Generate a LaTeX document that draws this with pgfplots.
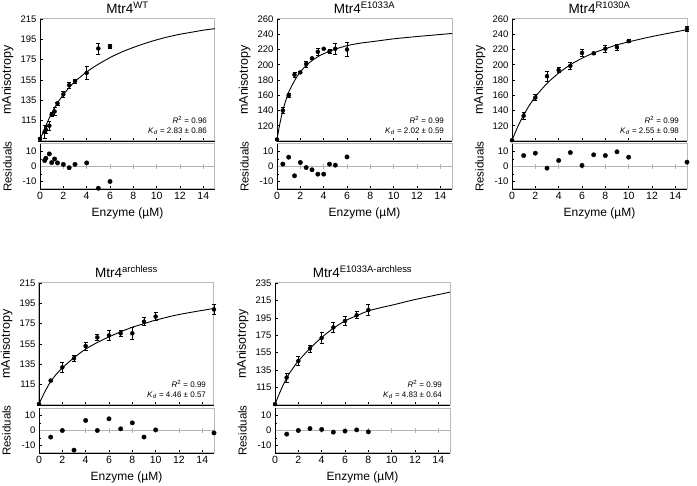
\documentclass[border=0pt]{standalone}
\usepackage{fontspec}
\setmainfont{Liberation Sans}
\usepackage{pgfplots}
\pgfplotsset{compat=1.18}

\pgfplotsset{
  every axis/.append style={
    scale only axis, width=175pt, xmin=0, xmax=15,
    xtick={0,2,...,14},
    axis line style={gray!55, line width=1pt},
    tick style={black, line width=0.5pt},
    major tick length=3pt, minor tick length=2pt,
    tick align=inside, xtick pos=bottom, ytick pos=left,
    /pgf/number format/assume math mode=true,
    yticklabel style={font=\fontsize{9.5}{9.5}\selectfont},
    xticklabel style={font=\fontsize{10.5}{10.5}\selectfont},
    ylabel style={at={(axis description cs:-0.185,0.5)}, anchor=center},
    extra description/.code={
      \draw[black, line width=0.8pt] (0,1)--(0,0)--(1,0);
    },
  },
  mainax/.style={
    height=122pt, xticklabels={}, clip=false,
    ylabel={mAnisotropy},
    ylabel style={font=\fontsize{12.5}{14}\selectfont},
  },
  resax/.style={
    height=45pt, ymin=-15, ymax=15, ytick={-10,0,10}, minor ytick={-5,5},
    ylabel={Residuals},
    ylabel style={font=\fontsize{11.5}{13}\selectfont},
    xlabel={Enzyme (µM)},
    xlabel style={at={(axis description cs:0.5,0)}, anchor=center, yshift=-24pt,
      font=\fontsize{12}{14}\selectfont},
  },
  datap/.style={only marks, mark=*, mark size=2pt, black,
    error bars/.cd, y dir=both, y explicit,
    error bar style={line width=0.6pt, black},
    error mark options={rotate=90, mark size=2pt, line width=0.6pt, black}},
  fitp/.style={black, line width=0.9pt, smooth, no marks},
  resp/.style={only marks, mark=*, mark size=2.2pt, black},
  zerop/.style={gray!60, line width=0.8pt, no marks},
}
\newcommand{\ttl}[1]{\node[font=\fontsize{13.5}{15}\selectfont] at (rel axis cs:0.5,1) [yshift=11pt] {Mtr4\textsuperscript{#1}};}
\newcommand{\fitbox}[2]{\node[anchor=south east, inner sep=0pt, align=right,
  font=\fontsize{8}{10}\selectfont] at (rel axis cs:0.955,0.05)
  {\textit{R}\textsuperscript{2} = #1\\\textit{K}\textsubscript{\textit{d}} = #2};}
\newcommand{\zeroticks}{\pgfplotsinvokeforeach{2,4,6,8,10,12,14}{\draw[gray!60, line width=0.6pt] (axis cs:##1,-1.5)--(axis cs:##1,1.5);}}

\begin{document}
\begin{tikzpicture}
\useasboundingbox (0,0) rectangle (697pt,-486pt);

% ---- Mtr4 WT
\begin{axis}[mainax, at={(40pt,-141pt)}, anchor=south west,
  ymin=95, ymax=215, ytick={115,135,...,215}]
  \addplot[fitp] coordinates {(0,97)(0.25,103)(0.5,110)(0.75,116.5)(1,122.5)(1.5,132.5)(2,140.5)(2.5,147.5)(3,153.5)(4,163)(5,170.5)(6,177)(7,182.5)(8,187)(9,191)(10,194.5)(11,197.5)(12,200)(13,202)(14,204)(15,205.5)};
  \addplot[datap] coordinates {(0,97)+-(0,2) (0.4,104)+-(0,6) (0.5,106)+-(0,3) (0.8,110)+-(0,4) (1.0,121)+-(0,2) (1.25,124)+-(0,4) (1.5,132)+-(0,1.5) (2,141)+-(0,3) (2.5,150)+-(0,3) (3,154)+-(0,2) (4,162)+-(0,6) (5,186)+-(0,5.5) (6,188)+-(0,2)};
  \ttl{WT}
  \fitbox{0.96}{2.83 ± 0.86}
\end{axis}
\begin{axis}[resax, at={(40pt,-189pt)}, anchor=south west]
  \addplot[zerop] coordinates {(0,0)(15,0)};
  \zeroticks
  \addplot[resp] coordinates {(0.4,4)(0.5,5.5)(0.8,8.4)(1.0,2.6)(1.25,5)(1.5,2.4)(2,1.4)(2.5,-0.8)(3,1.4)(4,2.4)(5,-14.5)(6,-10)};
\end{axis}

% ---- Mtr4 E1033A
\begin{axis}[mainax, at={(277pt,-141pt)}, anchor=south west,
  ymin=100, ymax=260, ytick={120,140,...,260}]
  \addplot[fitp] coordinates {(0,102)(0.25,123)(0.5,140)(0.75,153)(1,164)(1.5,179)(2,190.5)(2.5,199)(3,205.5)(3.5,210.5)(4,214.5)(5,220.5)(6,225)(7,228)(8,230)(9,232)(10,234)(12,237)(15,241)};
  \addplot[datap] coordinates {(0,102)+-(0,1) (0.5,140)+-(0,4) (1,160)+-(0,3) (1.5,187)+-(0,3) (2,190)+-(0,1.5) (2.5,201)+-(0,4) (3,208.5)+-(0,1.5) (3.5,217)+-(0,5) (4,221)+-(0,1) (4.5,217.5)+-(0,3) (5,221)+-(0,7) (6,220)+-(0,9)};
  \ttl{E1033A}
  \fitbox{0.99}{2.02 ± 0.59}
\end{axis}
\begin{axis}[resax, at={(277pt,-189pt)}, anchor=south west]
  \addplot[zerop] coordinates {(0,0)(15,0)};
  \zeroticks
  \addplot[resp] coordinates {(0.5,1.6)(1,6.2)(1.5,-6.2)(2,2.7)(2.5,-0.7)(3,-2.2)(3.5,-5.1)(4,-5.1)(4.5,1.6)(5,0.9)(6,6.4)};
\end{axis}

% ---- Mtr4 R1030A
\begin{axis}[mainax, at={(512pt,-141pt)}, anchor=south west,
  ymin=100, ymax=260, ytick={120,140,...,260}]
  \addplot[fitp] coordinates {(0,101)(0.5,119)(1,134)(1.5,147)(2,158)(3,175.5)(4,189)(5,200)(6,208.5)(7,215.5)(8,221)(9,226)(10,230)(12,237)(15,246)};
  \addplot[datap] coordinates {(0,101)+-(0,1) (1,133)+-(0,4) (2,157)+-(0,4) (3,185)+-(0,7) (4,193)+-(0,3) (5,198.5)+-(0,5) (6,215.5)+-(0,5) (7,215)+-(0,1) (8,221)+-(0,5) (9,223)+-(0,4) (10,231)+-(0,2) (15,247)+-(0,3)};
  \ttl{R1030A}
  \fitbox{0.99}{2.55 ± 0.98}
\end{axis}
\begin{axis}[resax, at={(512pt,-189pt)}, anchor=south west]
  \addplot[zerop] coordinates {(0,0)(15,0)};
  \zeroticks
  \addplot[resp] coordinates {(1,7.3)(2,8.9)(3,-1.1)(4,4)(5,9.3)(6,0.7)(7,7.8)(8,7.3)(9,9.8)(10,6.2)(15,2.9)};
\end{axis}

% ---- Mtr4 archless
\begin{axis}[mainax, at={(39pt,-405pt)}, anchor=south west,
  ymin=95, ymax=215, ytick={115,135,...,215}]
  \addplot[fitp] coordinates {(0,96)(0.5,108)(1,118)(1.5,125.5)(2,131.5)(3,141.5)(4,150)(5,156.5)(6,162)(7,167)(8,171.5)(9,175)(10,178.5)(12,184)(15,190)};
  \addplot[datap] coordinates {(0,96)+-(0,1) (1,119)+-(0,1) (2,132)+-(0,5) (3,141)+-(0,3) (4,153)+-(0,4) (5,161.5)+-(0,3) (6,163.5)+-(0,5) (7,165.5)+-(0,3) (8,165.5)+-(0,6) (9,177)+-(0,4) (10,182)+-(0,4) (15,189)+-(0,5)};
  \ttl{archless}
  \fitbox{0.99}{4.46 ± 0.57}
\end{axis}
\begin{axis}[resax, at={(39pt,-453pt)}, anchor=south west]
  \addplot[zerop] coordinates {(0,0)(15,0)};
  \zeroticks
  \addplot[resp] coordinates {(1,-4.4)(2,0)(3,-13.1)(4,6.7)(5,0)(6,7.8)(7,1.1)(8,5.1)(9,-4.4)(10,0.4)(15,-1.6)};
\end{axis}

% ---- Mtr4 E1033A-archless
\begin{axis}[mainax, at={(275pt,-405pt)}, anchor=south west,
  ymin=95, ymax=235, ytick={115,135,...,235}]
  \addplot[fitp] coordinates {(0,96)(0.5,112)(1,126)(1.5,136.5)(2,145.5)(3,160)(4,172.5)(5,183)(6,191.5)(7,197.5)(8,203)(9,206.5)(10,209.5)(12,216)(15,224.5)};
  \addplot[datap] coordinates {(0,96)+-(0,1) (1,126.5)+-(0,5) (2,145.5)+-(0,5) (3,160)+-(0,4) (4,172)+-(0,6) (5,184)+-(0,6) (6,191.5)+-(0,5) (7,198)+-(0,4) (8,204)+-(0,6)};
  \ttl{E1033A-archless}
  \fitbox{0.99}{4.83 ± 0.64}
\end{axis}
\begin{axis}[resax, at={(275pt,-453pt)}, anchor=south west]
  \addplot[zerop] coordinates {(0,0)(15,0)};
  \zeroticks
  \addplot[resp] coordinates {(1,-2.4)(2,0)(3,1.3)(4,0.7)(5,-1.1)(6,-0.4)(7,0.4)(8,-0.9)};
\end{axis}
\end{tikzpicture}
\end{document}
